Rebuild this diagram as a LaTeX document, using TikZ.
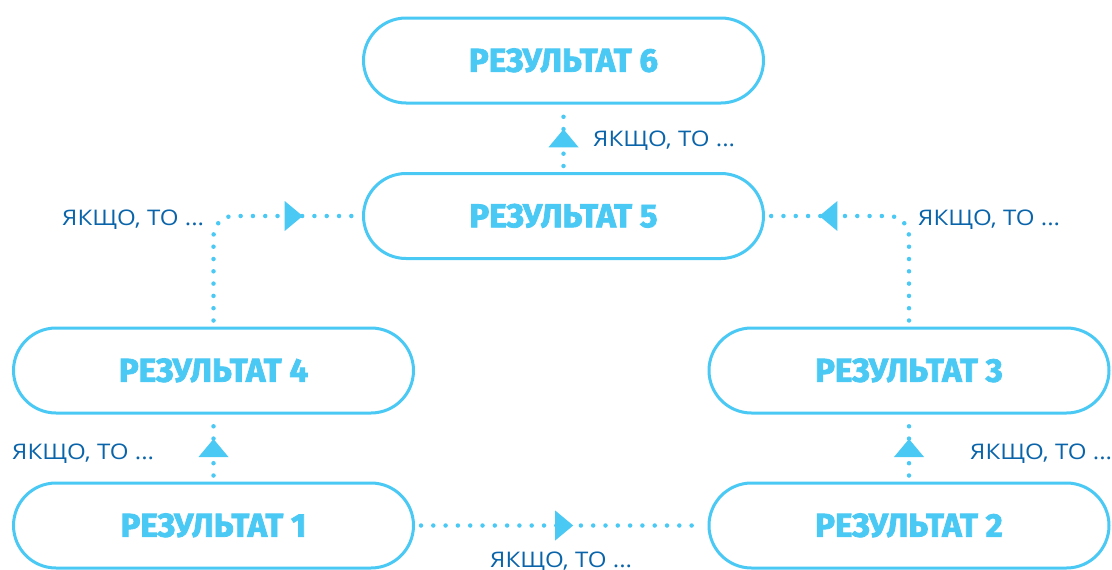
\documentclass[tikz,border=0pt]{standalone}
\usepackage{fontspec}
\setmainfont{Open Sans}[FakeStretch=1.12]
\newfontfamily\headfont{Fira Sans}[UprightFont=* Bold, FakeBold=2.4]
\definecolor{lb}{HTML}{4BC9F5}
\definecolor{db}{HTML}{0A64AA}
\tikzset{
  res/.style={draw=lb, line width=3pt, rounded corners=42.5pt,
    minimum width=400pt, minimum height=85pt, inner sep=0pt,
    text=lb, font=\headfont\fontsize{33}{33}\selectfont,
    text height=22.5pt, text depth=0pt},
  lab/.style={text=db, font=\fontsize{21.5}{21.5}\selectfont,
    anchor=base west, inner sep=0pt},
  link/.style={lb, line width=4.5pt, line cap=round,
    dash pattern=on 0pt off 12.3pt,
    shorten <=6pt, shorten >=6pt},
  % filled triangle pointing along +x; rotate it for other directions
  tiptri/.pic={\fill[lb, sharp corners] (9pt,0pt) -- (-9pt,15pt) -- (-9pt,-15pt) -- cycle;},
}
\begin{document}
\begin{tikzpicture}[x=1pt, y=-1pt]
  \useasboundingbox (0,0) rectangle (1112,570);
  \fill[white] (0,0) rectangle (1112,570);

  % result boxes
  \node[res] (r6) at (563.5, 60.5) {РЕЗУЛЬТАТ 6};
  \node[res] (r5) at (563.5, 216) {РЕЗУЛЬТАТ 5};
  \node[res] (r4) at (213.5, 370.5) {РЕЗУЛЬТАТ 4};
  \node[res] (r3) at (909, 370.5) {РЕЗУЛЬТАТ 3};
  \node[res] (r1) at (213.5, 525.5) {РЕЗУЛЬТАТ 1};
  \node[res] (r2) at (909, 525.5) {РЕЗУЛЬТАТ 2};

  % dotted transitions
  \draw[link] (r1.east) -- (r2.west) coordinate[pos=0.51] (a12);
  \draw[link] (r1.north) -- (r4.south) coordinate[pos=0.5] (a14);
  \draw[link] (r2.north) -- (r3.south) coordinate[pos=0.5] (a23);
  \draw[link, rounded corners=20pt] (r4.north) |- (r5.west)
    coordinate[pos=0.77] (a45);
  \draw[link, rounded corners=20pt] (r3.north) |- (r5.east)
    coordinate[pos=0.78] (a35);
  \draw[link] (r5.north) -- (r6.south) coordinate[pos=0.5] (a56);

  % direction marks
  \pic at (a12) {tiptri};
  \pic[rotate=90] at (a14) {tiptri};
  \pic[rotate=90] at (a23) {tiptri};
  \pic at (a45) {tiptri};
  \pic[rotate=180] at (a35) {tiptri};
  \pic[rotate=90] at (a56) {tiptri};

  % conditions
  \node[lab] (c56) at (593, 146) {ЯКЩО, ТО ...};
  \node[lab] (c45) at (62, 225) {ЯКЩО, ТО ...};
  \node[lab] (c35) at (918, 225) {ЯКЩО, ТО ...};
  \node[lab] (c14) at (12, 459) {ЯКЩО, ТО ...};
  \node[lab] (c23) at (970, 459) {ЯКЩО, ТО ...};
  \node[lab] (c12) at (490, 567) {ЯКЩО, ТО ...};
\end{tikzpicture}
\end{document}
